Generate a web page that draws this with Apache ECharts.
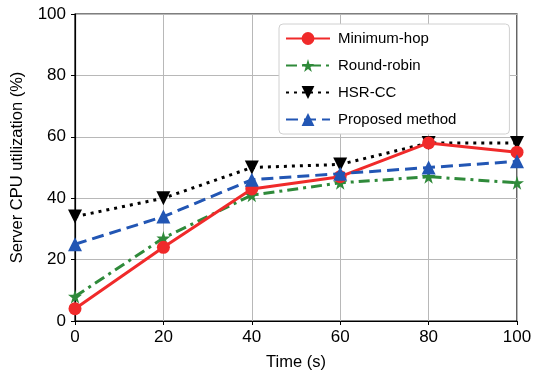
<!DOCTYPE html>
<html>
<head>
<meta charset="utf-8">
<script src="https://cdn.jsdelivr.net/npm/echarts@6/dist/echarts.min.js"></script>
<style>
  html, body { margin: 0; padding: 0; background: #fff; }
  #chart { width: 535px; height: 376px; }
</style>
</head>
<body>
<div id="chart"></div>
<script>
const times = [0, 20, 40, 60, 80, 100];
const minimumHop = [4, 24, 43, 47, 58, 55];
const roundRobin = [8, 27, 41, 45, 47, 45];
const hsrCC = [34, 40, 50, 51, 58, 58];
const proposed = [25, 34, 46, 48, 50, 52];

const STAR = "path://M50,0 L61,35 L98,35 L68,57 L79,91 L50,70 L21,91 L32,57 L2,35 L39,35 Z";
const FONT = "Liberation Sans, Arial, sans-serif";

const pairs = (vals) => times.map((t, i) => [t, vals[i]]);

const chart = echarts.init(document.getElementById("chart"));

chart.setOption({
  animation: false,
  textStyle: { fontFamily: FONT },
  grid: {
    left: 75, right: 18, top: 14, bottom: 49,
    show: true, borderColor: "#000", borderWidth: 1.2, backgroundColor: "transparent"
  },
  legend: {
    orient: "vertical",
    left: 279,
    top: 24,
    itemWidth: 44,
    itemHeight: 16,
    itemGap: 12,
    padding: [7, 53, 7, 6],
    backgroundColor: "#fff",
    borderColor: "#d0d0d0",
    borderWidth: 1,
    borderRadius: 4,
    textStyle: { fontSize: 15, color: "#000", fontFamily: FONT, padding: [0, 0, 0, 3] },
    data: ["Minimum-hop", "Round-robin", "HSR-CC", "Proposed method"]
  },
  xAxis: {
    type: "value",
    min: 0,
    max: 100,
    interval: 20,
    name: "Time (s)",
    nameLocation: "middle",
    nameGap: 33,
    nameTextStyle: { fontSize: 16.5, color: "#000" },
    axisLine: { lineStyle: { color: "#000", width: 1.2 } },
    axisTick: { show: true, length: 4, lineStyle: { color: "#000" } },
    axisLabel: { fontSize: 17, color: "#000", margin: 8 },
    splitLine: { show: true, lineStyle: { color: "#b8b8b8", width: 1 } }
  },
  yAxis: {
    type: "value",
    min: 0,
    max: 100,
    interval: 20,
    name: "Server CPU utilization (%)",
    nameLocation: "middle",
    nameGap: 49,
    nameTextStyle: { fontSize: 16.5, color: "#000" },
    axisLine: { show: true, lineStyle: { color: "#000", width: 1.2 } },
    axisTick: { show: true, length: 4, lineStyle: { color: "#000" } },
    axisLabel: { fontSize: 17, color: "#000", margin: 9 },
    splitLine: { show: true, lineStyle: { color: "#b8b8b8", width: 1 } }
  },
  series: [
    {
      name: "Minimum-hop",
      type: "line",
      data: pairs(minimumHop),
      symbol: "circle",
      symbolSize: 13,
      itemStyle: { color: "#f02a2a" },
      lineStyle: { width: 3, color: "#f02a2a" },
      z: 4
    },
    {
      name: "Round-robin",
      type: "line",
      data: pairs(roundRobin),
      symbol: STAR,
      symbolSize: 14,
      itemStyle: { color: "#2f8a3a" },
      lineStyle: { width: 3, color: "#2f8a3a", type: [11, 5, 3, 5] },
      z: 3
    },
    {
      name: "HSR-CC",
      type: "line",
      data: pairs(hsrCC),
      symbol: "triangle",
      symbolRotate: 180,
      symbolSize: 14,
      itemStyle: { color: "#000" },
      lineStyle: { width: 3, color: "#000", type: [3, 5] },
      z: 2
    },
    {
      name: "Proposed method",
      type: "line",
      data: pairs(proposed),
      symbol: "triangle",
      symbolSize: 14,
      itemStyle: { color: "#2256b4" },
      lineStyle: { width: 3, color: "#2256b4", type: [12, 6] },
      z: 5
    }
  ]
});
</script>
</body>
</html>
